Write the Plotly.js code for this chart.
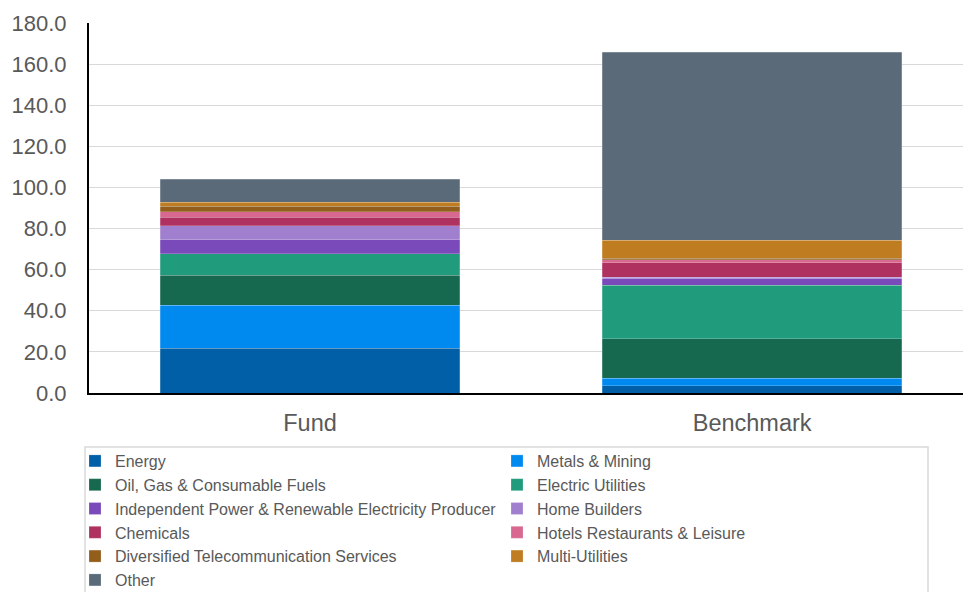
<!DOCTYPE html>
<html>
<head>
<meta charset="utf-8">
<script src="https://cdn.plot.ly/plotly-3.0.1.min.js"></script>
<style>html,body{margin:0;padding:0;background:#fff;}#chart{width:963px;height:592px;}</style>
</head>
<body>
<div id="chart"></div>
<script>
const categories = ["Fund", "Benchmark"];
const sectors = [
  "Energy", "Metals & Mining",
  "Oil, Gas & Consumable Fuels", "Electric Utilities",
  "Independent Power & Renewable Electricity Producer", "Home Builders",
  "Chemicals", "Hotels Restaurants & Leisure",
  "Diversified Telecommunication Services", "Multi-Utilities",
  "Other"
];
const fundValues = [21.7, 21.1, 14.5, 10.5, 6.8, 6.7, 4.1, 2.7, 2.7, 2.1, 11.1];
const benchmarkValues = [3.6, 3.5, 19.2, 26.2, 3.1, 0.8, 7.0, 1.5, 0.6, 8.9, 91.3];
const colors = ["#005FA6", "#008AF0", "#16684F", "#209B7C", "#7A4ABA", "#A07FCF",
                "#AE3160", "#D96891", "#935E1C", "#BF7C20", "#5A6A78"];

const traces = sectors.map((name, i) => ({
  type: "bar",
  name: name,
  x: categories,
  y: [fundValues[i], benchmarkValues[i]],
  marker: {color: colors[i], line: {color: "rgba(255,255,255,0.35)", width: 0.6}},
  hoverinfo: "name+y"
}));

// geometry of plot area (pixels) used to place the legend frame in paper coords
const plotW = 963 - 89, plotH = 592 - 23 - 199;
const px = v => (v - 89) / plotW;
const py = v => (393 - v) / plotH;

const layout = {
  width: 963, height: 592,
  margin: {l: 89, r: 0, t: 23, b: 199, autoexpand: false},
  barmode: "stack",
  bargap: 0.323,
  paper_bgcolor: "#ffffff",
  plot_bgcolor: "#ffffff",
  font: {family: "Liberation Sans, Arial, sans-serif", color: "#595959"},
  showlegend: true,
  xaxis: {
    type: "category",
    range: [-0.5, 1.477],
    showline: true, linecolor: "#000000", linewidth: 2,
    tickfont: {size: 23.5, color: "#595959"},
    ticks: "", showgrid: false, zeroline: false,
    ticklabelstandoff: 8
  },
  yaxis: {
    range: [0, 180],
    tickvals: [0, 20, 40, 60, 80, 100, 120, 140, 160, 180],
    tickformat: ".1f",
    showline: true, linecolor: "#000000", linewidth: 2,
    showgrid: true, gridcolor: "#d9d9d9", gridwidth: 1,
    zeroline: false,
    ticks: "", tickfont: {size: 22, color: "#595959"},
    ticklabelstandoff: 16
  },
  shapes: [{
    type: "rect", xref: "paper", yref: "paper",
    x0: px(85), x1: px(928), y0: py(447), y1: py(640),
    line: {color: "#d9d9d9", width: 1.5}, fillcolor: "rgba(0,0,0,0)",
    layer: "below"
  }],
  legend: {
    orientation: "h",
    x: px(75), xanchor: "left",
    y: py(444), yanchor: "top",
    entrywidth: 377, entrywidthmode: "pixels",
    itemwidth: 30,
    font: {size: 16, color: "#595959"},
    borderwidth: 0,
    bgcolor: "rgba(0,0,0,0)",
    traceorder: "normal",
    tracegroupgap: 0
  }
};

Plotly.newPlot("chart", traces, layout, {displayModeBar: false, staticPlot: true});
</script>
</body>
</html>
